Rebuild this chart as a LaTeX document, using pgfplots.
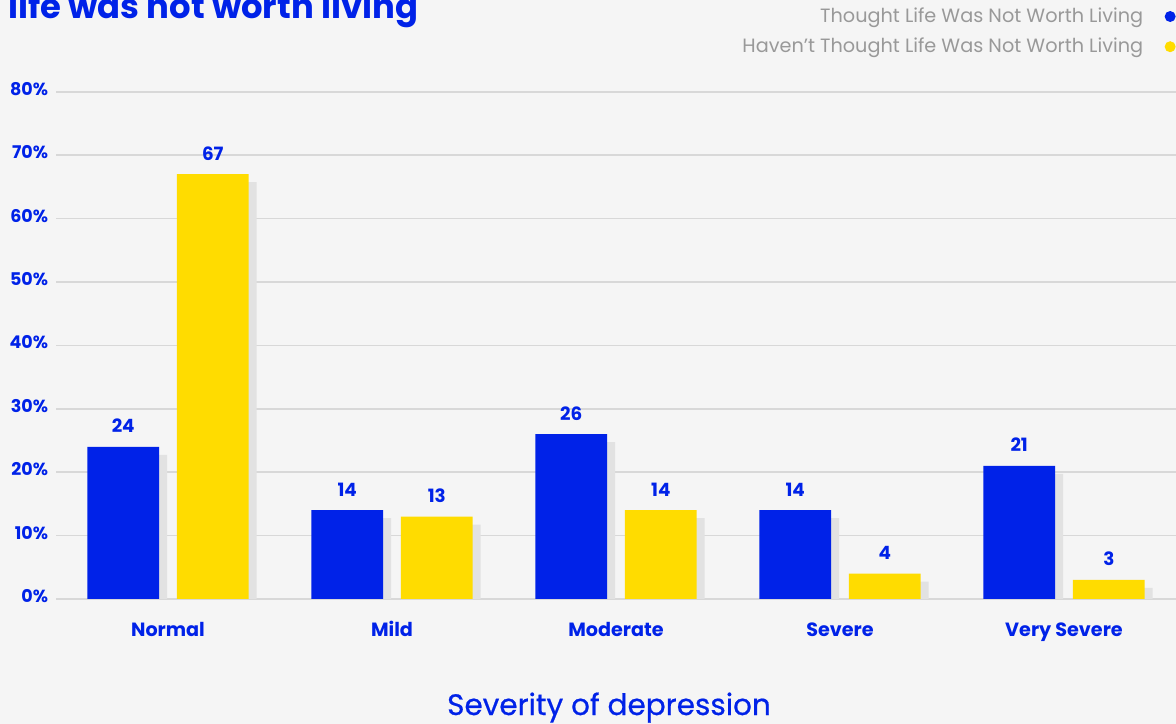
\documentclass[border=0pt]{standalone}
\usepackage{pgfplots}
\pgfplotsset{compat=1.18}
\usepackage{pgfplotstable}
\usepackage{fontspec}
\setmainfont{Poppins}
\newfontfamily\medfont[FakeBold=0.6]{Poppins}
\newlength\px
\setlength\px{0.6pt}
\definecolor{cblue}{HTML}{0022E8}
\definecolor{cyellow}{HTML}{FFDC00}
\definecolor{bg}{HTML}{F5F5F5}
\definecolor{gridc}{HTML}{D8D8D8}
\definecolor{shadowc}{HTML}{E2E2E2}
\definecolor{legtext}{HTML}{999999}

% share (%) by severity of depression
\pgfplotstableread{
idx thought havent
0   24      67
1   14      13
2   26      14
3   14      4
4   21      3
}\depr

\begin{document}
\begin{tikzpicture}
\useasboundingbox (0,0) rectangle (1176\px,724\px);
\clip (0,0) rectangle (1176\px,724\px);
\fill[bg] (0,0) rectangle (1176\px,724\px);
\node[anchor=base west, inner sep=0, text=cblue,
      font=\fontsize{20.3}{21}\selectfont\bfseries] at (8\px,705\px) {life was not worth living};
\begin{axis}[
    at={(56\px,125\px)}, anchor=south west,
    scale only axis, width=1120\px, height=507.2\px,
    xmin=-0.5, xmax=4.5, ymin=0, ymax=80,
    /pgf/number format/assume math mode=true,
    axis x line*=bottom, axis y line*=left,
    x axis line style={draw=gridc, line width=1.5\px, -},
    y axis line style={draw=none},
    ytick={0,10,...,80},
    yticklabel={\pgfmathprintnumber{\tick}\%},
    yticklabel style={font=\fontsize{10.5}{12}\selectfont\bfseries, text=cblue,
        yshift=3\px, xshift=-2\px},
    ytick style={draw=none},
    ymajorgrids, grid style={draw=gridc, line width=1.5\px},
    xtick={0,...,4},
    xticklabels={Normal,Mild,Moderate,Severe,Very Severe},
    xticklabel style={font=\fontsize{11.5}{13}\selectfont\bfseries, text=cblue, anchor=base, yshift=-38\px},
    xtick style={draw=none},
    extra x ticks={-0.5,0.5,1.5,2.5,3.5},
    extra x tick labels={},
    extra x tick style={tick align=inside, major tick length=13\px,
        tick style={draw=gridc, line width=1.5\px}},
    xlabel={Severity of depression},
    xlabel style={at={(axis description cs:0.5,0)}, anchor=base, yshift=-116\px, xshift=-7\px,
        font=\fontsize{17.7}{19}\medfont, text=cblue},
    legend plot pos=right,
    legend cell align=right,
    legend style={at={(axis description cs:1,1.17)}, anchor=north east,
        draw=none, fill=none, inner sep=0pt, row sep=9\px,
        font=\fontsize{11.55}{13}\selectfont, text=legtext,
        nodes={inner sep=2\px}},
    legend image code/.code={\path (0,0); \fill[#1] (25\px,0) circle (5.5\px);},
]
% shadows
\addplot[ybar, bar width=0.32, bar shift=-0.2, fill=shadowc, draw=none,
    xshift=8\px, yshift=-8\px, forget plot] table[x=idx, y=thought]{\depr};
\addplot[ybar, bar width=0.32, bar shift=0.2, fill=shadowc, draw=none,
    xshift=8\px, yshift=-8\px, forget plot] table[x=idx, y=havent]{\depr};
% bars
\addplot[ybar, bar width=0.32, bar shift=-0.2, fill=cblue, draw=none,
    nodes near coords,
    every node near coord/.append style={anchor=base, yshift=14\px, xshift=-44.8\px,
        text=cblue, font=\fontsize{11}{13}\selectfont\bfseries}]
    table[x=idx, y=thought]{\depr};
\addplot[ybar, bar width=0.32, bar shift=0.2, fill=cyellow, draw=none,
    nodes near coords,
    every node near coord/.append style={anchor=base, yshift=14\px, xshift=44.8\px,
        text=cblue, font=\fontsize{11}{13}\selectfont\bfseries}]
    table[x=idx, y=havent]{\depr};
\legend{Thought Life Was Not Worth Living, Haven't Thought Life Was Not Worth Living}
\end{axis}
\end{tikzpicture}
\end{document}
